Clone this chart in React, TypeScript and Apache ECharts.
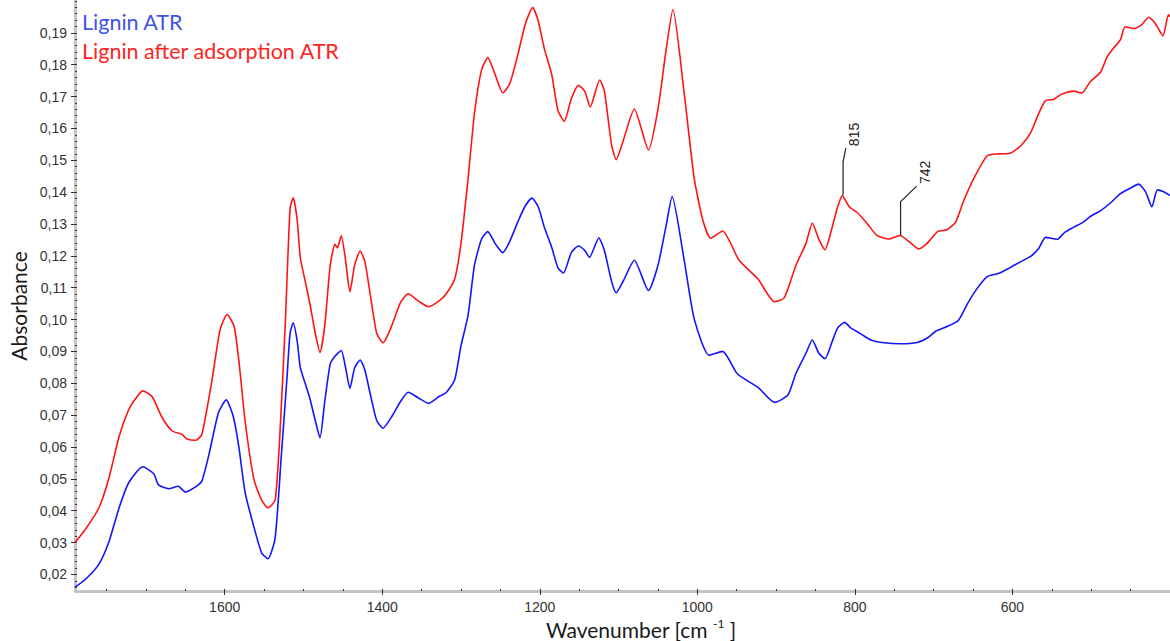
import React, { useEffect, useRef } from "react";
import * as echarts from "echarts";

// ---- data ----
const seriesNames = ["Lignin ATR", "Lignin after adsorption ATR"];

const wnBlue = [1790, 1777, 1760, 1747, 1734, 1722, 1704, 1690, 1684, 1671, 1659, 1650, 1637, 1629, 1620, 1608, 1598, 1589, 1582, 1574, 1563, 1553, 1545, 1536, 1528, 1521, 1517, 1513, 1508, 1504, 1498, 1492, 1485, 1479, 1473, 1466, 1460, 1452, 1447, 1441, 1435, 1428, 1422, 1415, 1407, 1399, 1388, 1377, 1367, 1354, 1341, 1327, 1319, 1308, 1300, 1291, 1283, 1274, 1266, 1257, 1247, 1238, 1228, 1219, 1210, 1202, 1194, 1185, 1177, 1170, 1160, 1151, 1143, 1137, 1125, 1118, 1109, 1103, 1094, 1080, 1062, 1050, 1040, 1032, 1017, 1004, 985, 968, 949, 923, 902, 885, 875, 862, 854, 846, 838, 829, 822, 813, 805, 793, 780, 763, 742, 721, 708, 697, 683, 669, 657, 645, 632, 617, 603, 590, 577, 567, 558, 543, 534, 522, 510, 501, 488, 476, 463, 450, 440, 431, 423, 416, 408, 400];
const absBlue = [0.016, 0.0184, 0.0231, 0.0302, 0.0409, 0.0487, 0.0538, 0.0516, 0.0481, 0.0469, 0.0477, 0.0459, 0.0475, 0.0493, 0.0576, 0.0707, 0.0748, 0.0695, 0.06, 0.0457, 0.035, 0.0267, 0.0249, 0.0314, 0.0576, 0.0814, 0.0957, 0.099, 0.0933, 0.0849, 0.0801, 0.0754, 0.0683, 0.0629, 0.0742, 0.0861, 0.0885, 0.0903, 0.0855, 0.0784, 0.0849, 0.0873, 0.0841, 0.0764, 0.0683, 0.0659, 0.0695, 0.0742, 0.0772, 0.0754, 0.0737, 0.076, 0.077, 0.0811, 0.0918, 0.1014, 0.1169, 0.1252, 0.1276, 0.124, 0.121, 0.1246, 0.1306, 0.1354, 0.1381, 0.1354, 0.1288, 0.1228, 0.1163, 0.1146, 0.121, 0.1231, 0.1217, 0.1195, 0.1256, 0.1217, 0.1121, 0.1084, 0.1121, 0.1186, 0.1091, 0.117, 0.129, 0.1386, 0.1191, 0.1002, 0.0888, 0.09, 0.0829, 0.0787, 0.074, 0.0763, 0.083, 0.0895, 0.0936, 0.0895, 0.0877, 0.093, 0.0973, 0.0991, 0.0973, 0.0956, 0.0936, 0.0927, 0.0924, 0.0928, 0.0942, 0.0964, 0.0978, 0.0996, 0.105, 0.1097, 0.1135, 0.1145, 0.1163, 0.1181, 0.1198, 0.1222, 0.1258, 0.1252, 0.1273, 0.129, 0.1306, 0.1324, 0.1342, 0.1365, 0.1395, 0.1413, 0.1425, 0.1401, 0.1354, 0.1407, 0.1401, 0.1389];

const wnRed = [1790, 1777, 1760, 1747, 1734, 1722, 1713, 1704, 1692, 1680, 1667, 1654, 1648, 1637, 1629, 1616, 1606, 1597, 1588, 1582, 1574, 1563, 1553, 1545, 1536, 1530, 1523, 1517, 1513, 1508, 1504, 1498, 1492, 1485, 1479, 1473, 1466, 1460, 1457, 1452, 1447, 1441, 1435, 1428, 1422, 1415, 1407, 1399, 1388, 1377, 1367, 1354, 1341, 1327, 1319, 1308, 1300, 1291, 1283, 1274, 1266, 1257, 1247, 1238, 1228, 1218, 1209, 1202, 1194, 1185, 1177, 1169, 1160, 1151, 1143, 1136, 1124, 1118, 1109, 1103, 1094, 1080, 1062, 1050, 1040, 1031, 1017, 1004, 993, 983, 968, 947, 923, 902, 890, 875, 862, 854, 846, 838, 829, 822, 816, 807, 797, 784, 772, 757, 743, 729, 719, 708, 695, 683, 672, 662, 649, 632, 617, 603, 590, 577, 567, 558, 548, 537, 522, 512, 501, 488, 480, 471, 463, 457, 446, 436, 427, 419, 409, 402, 400];
const absRed = [0.03, 0.0341, 0.0407, 0.0502, 0.0633, 0.0716, 0.0752, 0.0776, 0.0758, 0.0695, 0.0651, 0.0639, 0.0625, 0.0621, 0.0639, 0.0811, 0.0966, 0.1016, 0.0978, 0.0871, 0.068, 0.05, 0.0433, 0.0409, 0.0433, 0.0635, 0.0992, 0.1349, 0.1382, 0.1313, 0.1194, 0.1123, 0.1052, 0.0957, 0.0897, 0.098, 0.1171, 0.1236, 0.1225, 0.1263, 0.1194, 0.1087, 0.1171, 0.1215, 0.1182, 0.1075, 0.0957, 0.0927, 0.098, 0.1052, 0.1081, 0.1058, 0.104, 0.106, 0.108, 0.1127, 0.124, 0.1443, 0.1646, 0.1783, 0.1822, 0.1771, 0.1711, 0.1741, 0.183, 0.1931, 0.1979, 0.1937, 0.1848, 0.1771, 0.1657, 0.1622, 0.1693, 0.1735, 0.1717, 0.1667, 0.1752, 0.1717, 0.155, 0.1502, 0.1562, 0.1661, 0.1532, 0.166, 0.184, 0.1973, 0.1717, 0.1444, 0.1312, 0.1255, 0.1278, 0.1186, 0.1127, 0.1056, 0.1067, 0.1169, 0.124, 0.1303, 0.1253, 0.1219, 0.1288, 0.1353, 0.1389, 0.1353, 0.1336, 0.13, 0.1264, 0.1253, 0.1264, 0.124, 0.1222, 0.124, 0.1276, 0.1282, 0.1306, 0.1372, 0.1443, 0.1514, 0.152, 0.1522, 0.1544, 0.1586, 0.1645, 0.1687, 0.1691, 0.1708, 0.1717, 0.1711, 0.1747, 0.1777, 0.1824, 0.1854, 0.1878, 0.1919, 0.1913, 0.1925, 0.1949, 0.1931, 0.189, 0.1957, 0.195];

// peak annotations (leader line anchors, in data units)
const ann815Wn = [815, 815, 811.6];
const ann815Abs = [0.139, 0.1495, 0.1538];
const ann742Wn = [742, 742, 721.5];
const ann742Abs = [0.1264, 0.137, 0.1419];
const annLabels = ["815", "742"];

const xTickValues = [600, 800, 1000, 1200, 1400, 1600];
const yTickValues = [0.02, 0.03, 0.04, 0.05, 0.06, 0.07, 0.08, 0.09, 0.1, 0.11, 0.12, 0.13, 0.14, 0.15, 0.16, 0.17, 0.18, 0.19];

const X_MIN = 400;
const X_MAX = 1790;
const Y_MIN = 0.0148;
const Y_MAX = 0.2003;

const xMinor: number[] = [];
for (let v = 450; v <= 1750; v += 50) xMinor.push(v);
const yMinor: number[] = [];
for (let k = 8; k <= 100; k++) yMinor.push(Math.round(k * 0.002 * 10000) / 10000);

const BLUE = "#1414ff";
const RED = "#ff1414";
const AXIS_GRAY = "#c4c4c4";
const TICK_COLOR = "#333";

export default function App() {
  const ref = useRef<HTMLDivElement>(null);

  useEffect(() => {
    if (!ref.current) return;
    const chart = echarts.init(ref.current, undefined, { renderer: "svg" });

    const pairs = (xs: number[], ys: number[]) => xs.map((x, i) => [x, ys[i]]);

    const baseX = {
      type: "value" as const,
      min: X_MIN,
      max: X_MAX,
      inverse: true,
      splitLine: { show: false },
    };
    const baseY = {
      type: "value" as const,
      min: Y_MIN,
      max: Y_MAX,
      splitLine: { show: false },
    };

    chart.setOption({
      animation: false,
      backgroundColor: "#ffffff",
      grid: { left: 75, right: 0, top: 0, bottom: 50, containLabel: false },
      legend: {
        show: true,
        selectedMode: false,
        orient: "vertical",
        left: 77,
        top: 11,
        padding: 0,
        itemWidth: 0,
        itemHeight: 22,
        itemGap: 7,
        icon: "none",
        textStyle: { fontFamily: "Lato", fontSize: 21.5, lineHeight: 22 },
        data: [
          { name: seriesNames[0], textStyle: { color: "#4053e6" } },
          { name: seriesNames[1], textStyle: { color: "#ff2424" } },
        ],
      },
      xAxis: [
        {
          ...baseX,
          position: "bottom",
          axisLine: { show: true, onZero: false, lineStyle: { color: AXIS_GRAY, width: 3 } },
          axisTick: { show: true, customValues: xTickValues, length: 4, lineStyle: { color: TICK_COLOR, width: 1 } },
          axisLabel: {
            show: true,
            customValues: xTickValues,
            margin: 9,
            color: "#333",
            fontFamily: "Liberation Sans",
            fontSize: 14,
            formatter: (v: number) => String(v),
          },
        },
        {
          ...baseX,
          position: "bottom",
          axisLine: { show: false, onZero: false },
          axisTick: { show: true, inside: true, customValues: xMinor, length: 2, lineStyle: { color: TICK_COLOR, width: 1 } },
          axisLabel: { show: false },
        },
      ],
      yAxis: [
        {
          ...baseY,
          position: "left",
          axisLine: { show: true, onZero: false, lineStyle: { color: AXIS_GRAY, width: 3 } },
          axisTick: { show: true, customValues: yTickValues, length: 4, lineStyle: { color: TICK_COLOR, width: 1 } },
          axisLabel: {
            show: true,
            customValues: yTickValues,
            margin: 8,
            color: "#333",
            fontFamily: "Liberation Sans",
            fontSize: 14,
            formatter: (v: number) => v.toFixed(2).replace(".", ","),
          },
        },
        {
          ...baseY,
          position: "left",
          axisLine: { show: false, onZero: false },
          axisTick: { show: true, inside: true, customValues: yMinor, length: 2, lineStyle: { color: TICK_COLOR, width: 1 } },
          axisLabel: { show: false },
        },
      ],
      series: [
        {
          name: seriesNames[0],
          type: "line",
          data: pairs(wnBlue, absBlue),
          showSymbol: false,
          symbol: "none",
          smooth: 0.2,
          lineStyle: { color: BLUE, width: 1.6 },
          itemStyle: { color: BLUE },
          clip: false,
          silent: true,
        },
        {
          name: seriesNames[1],
          type: "line",
          data: pairs(wnRed, absRed),
          showSymbol: false,
          symbol: "none",
          smooth: 0.2,
          lineStyle: { color: RED, width: 1.6 },
          itemStyle: { color: RED },
          clip: false,
          silent: true,
        },
        {
          name: "ann815",
          type: "line",
          data: pairs(ann815Wn, ann815Abs),
          symbol: "none",
          lineStyle: { color: "#222", width: 1.2 },
          silent: true,
          z: 5,
        },
        {
          name: "ann742",
          type: "line",
          data: pairs(ann742Wn, ann742Abs),
          symbol: "none",
          lineStyle: { color: "#222", width: 1.2 },
          silent: true,
          z: 5,
        },
      ],
    });

    const finder = { xAxisIndex: 0, yAxisIndex: 0 };
    const p815 = chart.convertToPixel(finder, [ann815Wn[2], ann815Abs[2]]) as number[];
    const p742 = chart.convertToPixel(finder, [ann742Wn[2], ann742Abs[2]]) as number[];

    const annText = (p: number[], text: string) => ({
      type: "text",
      x: p[0] + 8.5,
      y: p[1] - 2,
      rotation: Math.PI / 2,
      silent: true,
      style: {
        text,
        fill: "#222",
        font: "14px 'Liberation Sans'",
        align: "left",
        verticalAlign: "middle",
      },
    });

    chart.setOption({
      graphic: [
        annText(p815, annLabels[0]),
        annText(p742, annLabels[1]),
        {
          type: "text",
          x: 641,
          y: 629,
          silent: true,
          style: {
            text: "Wavenumber [cm {sup|-1} ]",
            fill: "#1a1a1a",
            font: "21px Lato",
            align: "center",
            verticalAlign: "middle",
            lineHeight: 24,
            rich: {
              sup: { fontSize: 12, fontFamily: "Lato", fill: "#1a1a1a", verticalAlign: "top", lineHeight: 14 },
            },
          },
        },
        {
          type: "text",
          x: 18,
          y: 306,
          rotation: Math.PI / 2,
          silent: true,
          style: {
            text: "Absorbance",
            fill: "#1a1a1a",
            font: "21px Lato",
            align: "center",
            verticalAlign: "middle",
          },
        },
      ],
    });

    return () => {
      chart.dispose();
    };
  }, []);

  return (
    <div
      ref={ref}
      style={{ position: "fixed", left: 0, top: 0, width: 1170, height: 641, background: "#fff" }}
    />
  );
}
